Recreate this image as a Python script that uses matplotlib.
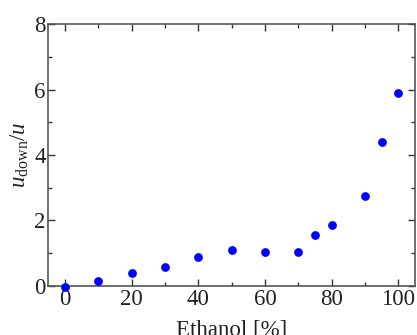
import matplotlib
matplotlib.use("Agg")
import matplotlib.pyplot as plt
from matplotlib.ticker import MultipleLocator

ethanol = [0, 10, 20, 30, 40, 50, 60, 70, 75, 80, 90, 95, 100]
ratio = [-0.02, 0.14, 0.40, 0.59, 0.90, 1.10, 1.05, 1.03, 1.57, 1.85, 2.74, 4.41, 5.90]

plt.rcParams['font.family'] = ['Liberation Serif', 'DejaVu Serif']
plt.rcParams['mathtext.fontset'] = 'custom'
plt.rcParams['mathtext.rm'] = 'Liberation Serif'
plt.rcParams['mathtext.it'] = 'Liberation Serif:italic'

fig = plt.figure(figsize=(4.17, 3.35), dpi=100)
ax = fig.add_axes([0.1163, 0.1463, 0.8787, 0.782])
ax.plot(ethanol, ratio, 'o', color='#0000ff', markersize=6.3, markeredgewidth=0, clip_on=False, zorder=3)
ax.set_xlim(-5, 105)
ax.set_ylim(0, 8)
ax.xaxis.set_major_locator(MultipleLocator(20))
ax.xaxis.set_minor_locator(MultipleLocator(10))
ax.yaxis.set_major_locator(MultipleLocator(2))
ax.yaxis.set_minor_locator(MultipleLocator(1))
ax.tick_params(which='both', direction='in', top=True, right=True, colors='#333333', labelcolor='#222222', labelsize=16.5)
ax.tick_params(which='major', length=5, width=1, pad=2)
ax.tick_params(which='minor', length=3, width=1)
for s in ax.spines.values():
    s.set_color('#555555')
    s.set_linewidth(1.2)
ax.set_xlabel('Ethanol [%]', fontsize=16.5, color='#222222', labelpad=7)
ax.set_ylabel(r'$u_{\mathrm{down}}/u$', fontsize=16.5, color='#222222', labelpad=2)
fig.savefig('out.png', dpi=100)
